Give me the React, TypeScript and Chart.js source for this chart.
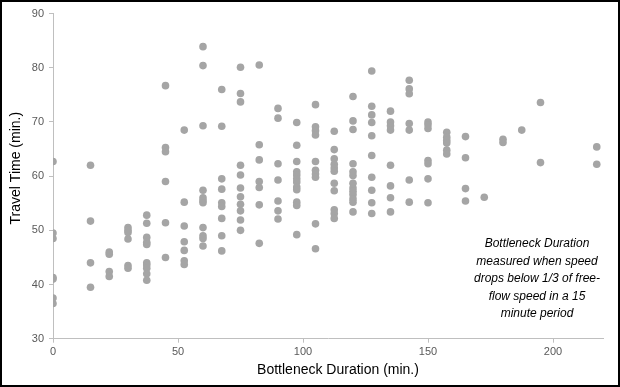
import React, { useEffect, useRef } from "react";
import { Chart, registerables } from "chart.js";

Chart.register(...registerables);

// Bottleneck duration (min.) of each column of points
const durations: number[] = [
  0, 15, 22.5, 30, 37.5, 45, 52.5, 60, 67.5, 75, 82.5, 90, 97.5, 105, 112.5,
  120, 127.5, 135, 142.5, 150, 157.5, 165, 172.5, 180, 187.5, 195, 217.5,
];

// Travel time (min.) observed for each duration above
const travelTimes: number[][] = [
  [62.7, 49.5, 48.5, 41.3, 41.0, 37.5, 36.5],
  [62.0, 51.7, 44.0, 39.5],
  [46.0, 45.6, 42.4, 41.5],
  [50.5, 50.0, 49.6, 48.4, 43.5, 43.0],
  [52.8, 51.3, 48.7, 47.8, 47.4, 44.0, 43.6, 43.0, 42.0, 40.8],
  [76.7, 65.3, 64.5, 59.0, 51.4, 45.0],
  [68.5, 55.2, 50.8, 47.9, 46.3, 44.4, 43.7],
  [83.9, 80.4, 69.3, 57.4, 56.0, 55.5, 55.1, 50.5, 49.0, 48.5, 47.1],
  [76.0, 69.2, 59.5, 57.6, 55.1, 54.4, 52.2, 49.0, 46.2],
  [80.1, 75.25, 73.7, 62.0, 60.2, 57.8, 56.2, 54.8, 53.6, 51.9, 50.0],
  [80.5, 65.8, 63.0, 59.0, 57.9, 54.7, 47.6],
  [72.5, 70.7, 62.3, 59.3, 55.4, 53.6, 52.1],
  [69.9, 65.7, 62.7, 60.8, 60.2, 59.5, 58.9, 58.0, 57.5, 55.2, 54.6, 49.2],
  [73.2, 69.1, 68.4, 67.6, 62.7, 61.1, 60.4, 59.8, 51.2, 46.6],
  [68.3, 64.9, 63.2, 62.2, 61.5, 60.9, 58.7, 57.3, 53.8, 53.1, 52.2],
  [74.7, 70.2, 68.6, 62.3, 60.8, 60.1, 58.7, 57.8, 57.2, 56.6, 55.8, 55.2, 53.4],
  [79.4, 72.9, 71.3, 69.9, 67.45, 63.8, 59.8, 57.4, 55.1, 53.1],
  [72.0, 70.0, 69.3, 68.5, 62.0, 58.2, 56.0, 53.4],
  [77.7, 76.1, 75.2, 69.7, 68.5, 59.3, 55.2],
  [70.0, 69.5, 68.8, 62.9, 62.3, 59.5, 55.1],
  [68.1, 67.2, 66.6, 66.1, 64.8, 64.1],
  [67.3, 63.4, 57.7, 55.4],
  [56.1],
  [66.8, 66.2],
  [68.5],
  [73.6, 62.5],
  [65.4, 62.2],
];

const xMin = 0;
const xMax = 220;
const xStep = 50;
const yMin = 30;
const yMax = 90;
const yStep = 10;

const xAxisTitle = "Bottleneck Duration (min.)";
const yAxisTitle = "Travel Time (min.)";
const noteLines: string[] = [
  "Bottleneck Duration",
  "measured when speed",
  "drops below 1/3 of free-",
  "flow speed in a 15",
  "minute period",
];

const FONT = '"Liberation Sans", Arial, sans-serif';

const textPlugin = {
  id: "extraTexts",
  afterDraw(chart: any) {
    const { ctx, chartArea: ca } = chart;
    ctx.save();
    ctx.fillStyle = "#000000";
    ctx.font = `14px ${FONT}`;
    ctx.textAlign = "center";
    ctx.textBaseline = "middle";
    ctx.fillText(xAxisTitle, (ca.left + ca.right) / 2 + 10, ca.bottom + 31.3);
    ctx.translate(14.5, (ca.top + ca.bottom) / 2 - 8);
    ctx.rotate(-Math.PI / 2);
    ctx.fillText(yAxisTitle, 0, 0);
    ctx.restore();

    ctx.save();
    ctx.fillStyle = "#000000";
    ctx.font = `italic 12px ${FONT}`;
    ctx.textAlign = "center";
    ctx.textBaseline = "alphabetic";
    noteLines.forEach((line, i) => {
      ctx.fillText(line, 535, 245 + i * 17.5);
    });
    ctx.restore();
  },
};

export default function App() {
  const canvasRef = useRef<HTMLCanvasElement | null>(null);

  useEffect(() => {
    if (!canvasRef.current) return;
    const points = durations.flatMap((d, i) =>
      travelTimes[i].map((t) => ({ x: d, y: t }))
    );
    const chart = new Chart(canvasRef.current, {
      type: "scatter",
      data: {
        datasets: [
          {
            data: points,
            backgroundColor: "#a5a5a5",
            borderWidth: 0,
            pointRadius: 3.8,
            pointHoverRadius: 3.8,
          },
        ],
      },
      options: {
        responsive: false,
        animation: false,
        devicePixelRatio: 1,
        layout: {
          autoPadding: false,
          padding: { top: 5.3, right: 15, left: 0, bottom: 0 },
        },
        plugins: {
          legend: { display: false },
          tooltip: { enabled: false },
        },
        scales: {
          x: {
            type: "linear",
            position: "bottom",
            min: xMin,
            max: xMax,
            ticks: {
              stepSize: xStep,
              includeBounds: false,
              color: "#595959",
              font: { size: 11, family: FONT },
              padding: 3,
            },
            grid: {
              display: true,
              drawOnChartArea: false,
              drawTicks: true,
              tickLength: 4,
              color: "#bfbfbf",
            },
            border: { display: true, color: "#bfbfbf", width: 1 },
            afterFit: (s: any) => {
              s.height = 46.3;
            },
          },
          y: {
            type: "linear",
            min: yMin,
            max: yMax,
            ticks: {
              stepSize: yStep,
              color: "#595959",
              font: { size: 11, family: FONT },
              padding: 5,
            },
            grid: {
              display: true,
              drawOnChartArea: false,
              drawTicks: true,
              tickLength: 4,
              color: "#bfbfbf",
            },
            border: { display: true, color: "#bfbfbf", width: 1 },
            afterFit: (s: any) => {
              s.width = 51;
            },
          },
        },
      },
      plugins: [textPlugin],
    });
    return () => chart.destroy();
  }, []);

  return (
    <>
      <style>{`body{margin:0;}`}</style>
      <div
        style={{
          width: 620,
          height: 387,
          boxSizing: "border-box",
          border: "2px solid #000",
          background: "#ffffff",
          overflow: "hidden",
        }}
      >
        <canvas ref={canvasRef} width={616} height={383} style={{ display: "block" }} />
      </div>
    </>
  );
}
